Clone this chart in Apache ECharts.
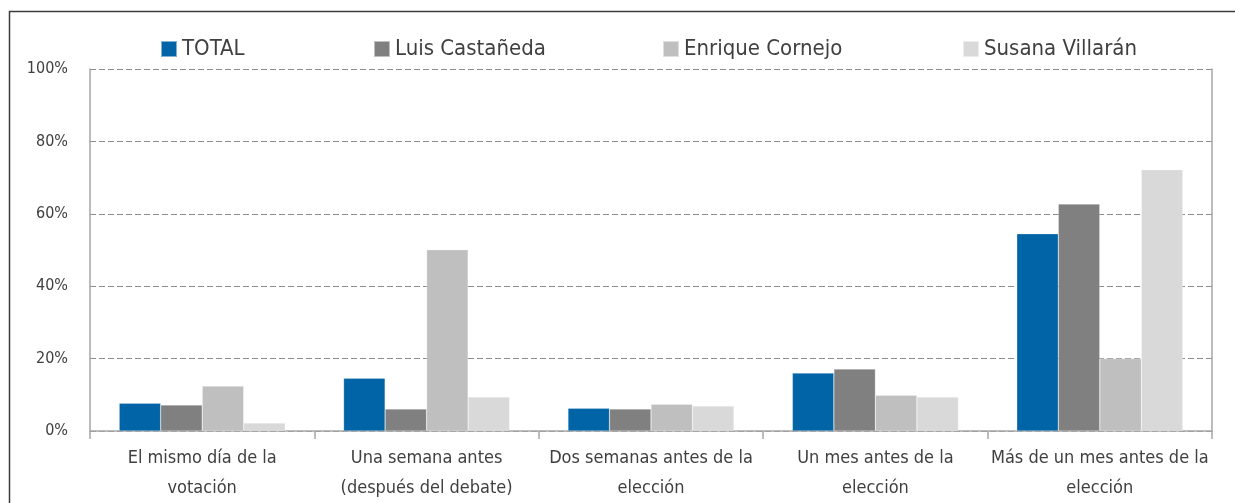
<!DOCTYPE html>
<html>
<head>
<meta charset="utf-8">
<script src="https://cdn.jsdelivr.net/npm/echarts@6/dist/echarts.min.js"></script>
<style>
  html,body{margin:0;padding:0;background:#fff;}
  #chart{width:1235px;height:503px;}
</style>
</head>
<body>
<div id="chart"></div>
<script>
// categorias del eje x
const categories = [
  'El mismo día de la\nvotación',
  'Una semana antes\n(después del debate)',
  'Dos semanas antes de la\nelección',
  'Un mes antes de la\nelección',
  'Más de un mes antes de la\nelección'
];
const seriesNames = ['TOTAL', 'Luis Castañeda', 'Enrique Cornejo', 'Susana Villarán'];
// valores en %
const total     = [7.7, 14.6, 6.3, 16.0, 54.5];
const castaneda = [7.2, 6.1, 6.1, 17.1, 62.7];
const cornejo   = [12.4, 50.1, 7.4, 9.9, 20.0];
const villaran  = [2.2, 9.4, 6.9, 9.4, 72.2];
const yTicks = [0, 20, 40, 60, 80, 100];

const colors = ['#0064a6', '#808080', '#bfbfbf', '#d9d9d9'];
const font = '"Liberation Sans Narrow", "DejaVu Sans Condensed", "Roboto", sans-serif';
const txt = '#404040';

const chart = echarts.init(document.getElementById('chart'));
const legendLeft = [155, 368, 657, 957];  // cada leyenda por separado

const option = {
  animation: false,
  color: colors,
  textStyle: { fontFamily: font },
  legend: seriesNames.map((n, i) => ({
    data: [n],
    left: legendLeft[i],
    top: 33,
    itemWidth: 16,
    itemHeight: 16,
    itemGap: 6,
    icon: 'rect',
    textStyle: { fontFamily: font, fontSize: 22, color: txt }
  })),
  grid: { left: 90, right: 23, top: 69, bottom: 71, containLabel: false },
  xAxis: {
    type: 'category',
    data: categories,
    boundaryGap: true,
    axisLine: { lineStyle: { color: '#a6a6a6', width: 1.5 } },
    axisTick: { show: true, length: 8, lineStyle: { color: '#a6a6a6', width: 1.5 } },
    axisLabel: { color: txt, fontSize: 18, lineHeight: 30, margin: 12, fontFamily: font, interval: 0 }
  },
  yAxis: [{
    type: 'value',
    min: yTicks[0],
    max: yTicks[yTicks.length - 1],
    interval: 20,
    axisLine: { show: true, lineStyle: { color: '#a6a6a6', width: 1.5 } },
    axisTick: { show: false },
    axisLabel: { formatter: '{value}%', color: txt, fontSize: 16, margin: 22, fontFamily: font },
    splitLine: { lineStyle: { color: '#8c8c8c', type: [6, 3], width: 1 } }
  }, {
    type: 'value',
    position: 'right',
    min: 0, max: 100, interval: 20,
    axisLine: { show: true, lineStyle: { color: '#a6a6a6', width: 1.5 } },
    axisTick: { show: false },
    axisLabel: { show: false },
    splitLine: { show: false }
  }],
  series: [total, castaneda, cornejo, villaran].map((d, i) => ({
    name: seriesNames[i],
    type: 'bar',
    data: d,
    barGap: '0%',
    barCategoryGap: '26%',
    itemStyle: { color: colors[i], borderColor: 'rgba(255,255,255,0.5)', borderWidth: 0.5 }
  })),
  graphic: [{
    type: 'polyline',
    shape: { points: [[9.5, 504], [9.5, 11.5], [1240, 11.5]] },
    style: { stroke: '#3c3c3c', lineWidth: 1.5, fill: null }
  }]
};
chart.setOption(option);
</script>
</body>
</html>
